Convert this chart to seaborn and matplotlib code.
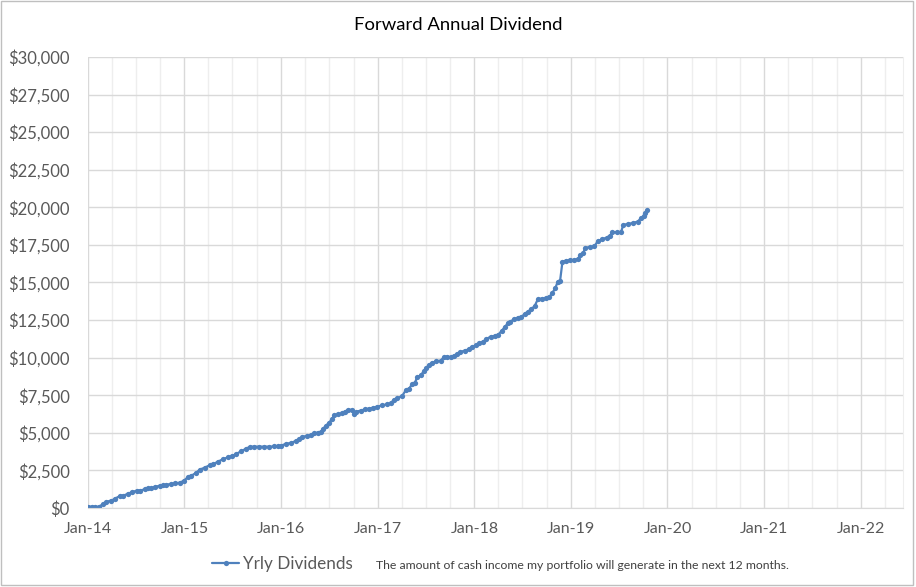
import matplotlib
matplotlib.use("Agg")
import matplotlib.dates as mdates
import matplotlib.pyplot as plt
import matplotlib.ticker as mticker
import pandas as pd
import seaborn as sns
from matplotlib.patches import Rectangle

dates = [
    "2014-01-02", "2014-01-15", "2014-01-27", "2014-02-11", "2014-02-28", "2014-03-12",
    "2014-03-31", "2014-04-13", "2014-05-02", "2014-05-14", "2014-06-02", "2014-06-15",
    "2014-07-04", "2014-07-16", "2014-08-04", "2014-08-16", "2014-08-29", "2014-09-11",
    "2014-09-29", "2014-10-12", "2014-10-25", "2014-11-12", "2014-11-25", "2014-12-14",
    "2014-12-30", "2015-01-14", "2015-01-27", "2015-02-15", "2015-02-27", "2015-03-18",
    "2015-04-06", "2015-04-18", "2015-05-07", "2015-05-26", "2015-06-14", "2015-06-30",
    "2015-07-15", "2015-08-03", "2015-08-22", "2015-09-04", "2015-09-22", "2015-10-11",
    "2015-10-30", "2015-11-18", "2015-12-07", "2015-12-19", "2016-01-01", "2016-01-20",
    "2016-02-08", "2016-02-27", "2016-03-10", "2016-03-22", "2016-04-10", "2016-04-23",
    "2016-05-06", "2016-05-18", "2016-05-31", "2016-06-06", "2016-06-19", "2016-07-01",
    "2016-07-11", "2016-07-20", "2016-08-05", "2016-08-20", "2016-08-30", "2016-09-12",
    "2016-09-25", "2016-10-03", "2016-10-12", "2016-10-29", "2016-11-14", "2016-11-29",
    "2016-12-15", "2016-12-30", "2017-01-18", "2017-02-06", "2017-02-19", "2017-03-03",
    "2017-03-16", "2017-04-03", "2017-04-16", "2017-04-29", "2017-05-11", "2017-05-21",
    "2017-05-30", "2017-06-12", "2017-06-24", "2017-07-03", "2017-07-13", "2017-07-25",
    "2017-08-10", "2017-08-26", "2017-09-08", "2017-09-20", "2017-10-03", "2017-10-15",
    "2017-10-28", "2017-11-09", "2017-11-26", "2017-12-11", "2017-12-23", "2018-01-07",
    "2018-01-20", "2018-02-02", "2018-02-14", "2018-03-03", "2018-03-19", "2018-03-31",
    "2018-04-15", "2018-04-25", "2018-05-08", "2018-05-17", "2018-05-29", "2018-06-15",
    "2018-06-27", "2018-07-10", "2018-07-22", "2018-08-04", "2018-08-17", "2018-08-29",
    "2018-09-13", "2018-09-28", "2018-10-11", "2018-10-23", "2018-11-03", "2018-11-12",
    "2018-11-21", "2018-11-30", "2018-12-13", "2018-12-29", "2019-01-14", "2019-01-27",
    "2019-02-05", "2019-02-17", "2019-02-24", "2019-03-14", "2019-03-31", "2019-04-12",
    "2019-04-30", "2019-05-16", "2019-05-29", "2019-06-06", "2019-06-23", "2019-07-09",
    "2019-07-18", "2019-08-06", "2019-08-25", "2019-09-10", "2019-09-23", "2019-10-05",
    "2019-10-09", "2019-10-17",
]

yrly_dividends = [
    90, 90, 80, 80, 270, 420,
    490, 620, 800, 820, 950, 1050,
    1150, 1160, 1240, 1310, 1330, 1400,
    1480, 1500, 1550, 1600, 1640, 1680,
    1820, 2050, 2150, 2350, 2550, 2680,
    2840, 2900, 3080, 3240, 3370, 3460,
    3590, 3770, 3950, 4060, 4080, 4080,
    4080, 4080, 4090, 4100, 4150, 4270,
    4330, 4470, 4570, 4740, 4800, 4860,
    4970, 5010, 5060, 5230, 5480, 5680,
    5900, 6170, 6250, 6300, 6410, 6540,
    6520, 6250, 6410, 6480, 6570, 6610,
    6670, 6740, 6830, 6900, 6970, 7200,
    7300, 7450, 7820, 7940, 8250, 8340,
    8700, 8830, 9100, 9320, 9510, 9670,
    9760, 9800, 10030, 10070, 10030, 10110,
    10250, 10380, 10470, 10560, 10730, 10820,
    10960, 11050, 11220, 11400, 11440, 11500,
    11800, 12020, 12300, 12380, 12550, 12660,
    12690, 12910, 13060, 13220, 13440, 13890,
    13930, 13950, 14020, 14320, 14620, 15060,
    15120, 16390, 16450, 16480, 16500, 16560,
    16830, 16980, 17320, 17350, 17400, 17750,
    17880, 17990, 18120, 18340, 18340, 18340,
    18830, 18900, 18960, 19050, 19270, 19450,
    19600, 19830,
]

y_ticks = list(range(0, 30001, 2500))
x_start, x_end = "2014-01-01", "2022-06-10"
note = "The amount of cash income my portfolio will generate in the next 12 months."

df = pd.DataFrame({"Date": pd.to_datetime(dates), "Yrly Dividends": yrly_dividends})

sns.set_style("white")
plt.rcParams["font.family"] = ["Lato", "DejaVu Sans"]

grey_text = "#595959"
grid_major = "#D9D9D9"
grid_minor = "#EEEEEE"
line_color = "#4F81BD"

fig = plt.figure(figsize=(9.16, 5.87), dpi=100)
ax = fig.add_axes([0.096, 0.1346, 0.890, 0.7684])

sns.lineplot(
    data=df, x="Date", y="Yrly Dividends", ax=ax,
    color=line_color, linewidth=1.6, marker="o", markersize=3.8,
    markeredgewidth=0, label="Yrly Dividends",
)

ax.set_xlim(pd.Timestamp(x_start), pd.Timestamp(x_end))
ax.set_ylim(y_ticks[0], y_ticks[-1])
ax.set_yticks(y_ticks)
ax.yaxis.set_major_formatter(mticker.FuncFormatter(lambda v, _: f"${v:,.0f}"))

ax.xaxis.set_major_locator(mdates.YearLocator())
ax.xaxis.set_minor_locator(mdates.MonthLocator(bymonth=[4, 7, 10]))
ax.xaxis.set_major_formatter(mdates.DateFormatter("%b-%y"))

ax.grid(True, which="major", color=grid_major, linewidth=1.0)
ax.grid(True, which="minor", axis="x", color=grid_minor, linewidth=1.0)
ax.set_axisbelow(True)

for side in ["left", "top"]:
    ax.spines[side].set_visible(False)
ax.spines["right"].set_color(grid_minor)
ax.spines["bottom"].set_color(grid_major)

ax.tick_params(axis="y", length=0, labelsize=12, labelcolor=grey_text, pad=13)
ax.tick_params(axis="x", which="both", direction="out", length=4, color=grid_major,
               labelsize=11.5, labelcolor=grey_text, pad=6)
ax.set_xlabel("")
ax.set_ylabel("")

fig.text(0.5, 0.958, "Forward Annual Dividend", ha="center", va="center",
         fontsize=13.3, color="black")

ax.legend(loc="center left", bbox_to_anchor=(0.222, 0.039), bbox_transform=fig.transFigure,
          frameon=False, fontsize=12.3, handlelength=1.6, handletextpad=0.2,
          borderpad=0, labelcolor=grey_text)
fig.text(0.41, 0.037, note, ha="left", va="center", fontsize=8.8, color="#404040")

fig.patches.append(Rectangle((0.001, 0.003), 0.996, 0.995, transform=fig.transFigure,
                             fill=False, edgecolor="#BFBFBF", linewidth=1.0))

fig.savefig("out.png", dpi=100)
